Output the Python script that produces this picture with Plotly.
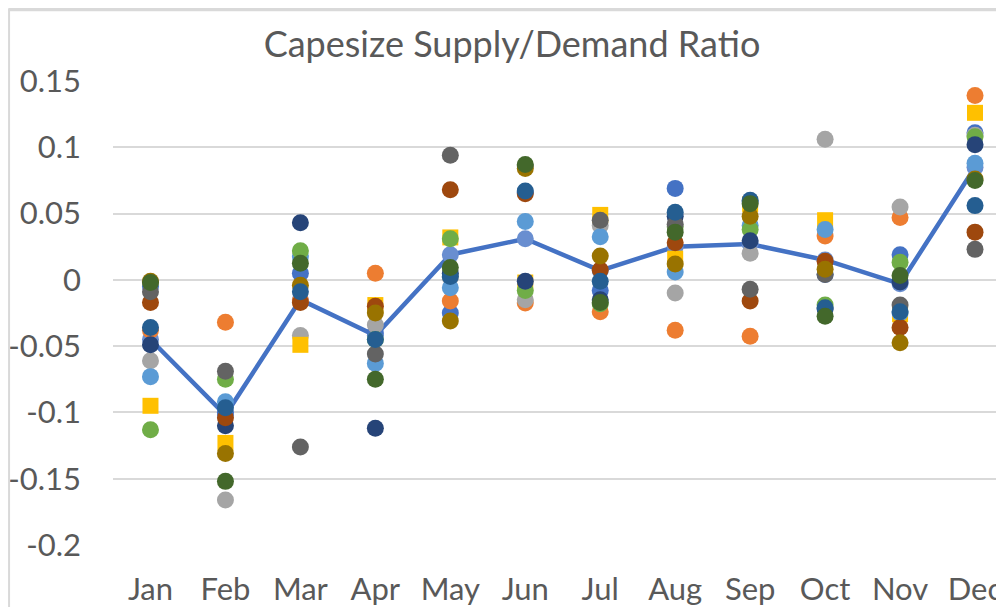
import plotly.graph_objects as go

months = ["Jan", "Feb", "Mar", "Apr", "May", "Jun", "Jul", "Aug", "Sep", "Oct", "Nov", "Dec"]

s01 = [-0.005, -0.100, 0.005, -0.040, -0.025, 0.066, -0.008, 0.069, 0.059, 0.004, 0.019, 0.111]
s02 = [-0.038, -0.032, -0.016, 0.005, -0.016, -0.0175, -0.024, -0.038, -0.0425, 0.033, 0.047, 0.139]
s03 = [-0.061, -0.166, -0.042, -0.034, 0.002, -0.015, 0.041, -0.010, 0.020, 0.106, 0.055, 0.109]
s04 = [-0.095, -0.123, -0.049, -0.019, 0.032, -0.002, 0.049, 0.016, 0.057, 0.045, -0.026, 0.126]
s05 = [-0.073, -0.092, 0.0175, -0.063, -0.006, 0.044, 0.0325, 0.006, 0.041, 0.038, -0.025, 0.088]
s06 = [-0.113, -0.075, 0.022, -0.045, 0.031, -0.008, -0.018, 0.040, 0.038, -0.019, 0.0133, 0.108]
s07 = [-0.049, -0.110, 0.043, -0.112, 0.005, -0.001, -0.015, 0.048, 0.0295, -0.022, -0.0017, 0.102]
s08 = [-0.017, -0.104, -0.017, -0.020, 0.068, 0.065, 0.0075, 0.028, -0.016, 0.014, -0.036, 0.036]
s09 = [-0.009, -0.069, -0.126, -0.056, 0.094, 0.086, 0.045, 0.042, -0.007, 0.004, -0.019, 0.023]
s10 = [-0.001, -0.131, -0.004, -0.025, -0.031, 0.084, 0.018, 0.012, 0.048, 0.008, -0.0475, 0.076]
s11 = [-0.036, -0.0965, -0.009, -0.045, 0.0025, 0.067, -0.001, 0.051, 0.060, -0.021, -0.024, 0.056]
s12 = [-0.002, -0.152, 0.0125, -0.075, 0.0093, 0.087, -0.017, 0.036, 0.0575, -0.0275, 0.0033, 0.075]
average = [-0.045, -0.102, -0.015, -0.042, 0.019, 0.031, 0.007, 0.025, 0.027, 0.015, -0.003, 0.085]

series = [s01, s02, s03, s04, s05, s06, s07, s08, s09, s10, s11, s12]
colors = ["#4472C4", "#ED7D31", "#A5A5A5", "#FFC000", "#5B9BD5", "#70AD47",
          "#264478", "#9E480E", "#636363", "#997300", "#255E91", "#43682B"]
symbols = ["circle", "circle", "circle", "square", "circle", "circle",
           "circle", "circle", "circle", "circle", "circle", "circle"]

ytick_vals = [0.15, 0.1, 0.05, 0, -0.05, -0.1, -0.15, -0.2]
ytick_text = ["0.15", "0.1", "0.05", "0", "-0.05", "-0.1", "-0.15", "-0.2"]

FONT = "Lato, Carlito, Calibri, sans-serif"
# the page body has an 8px margin, so the figure itself is 8px smaller
W, H = 996, 599
ML, MR, MT, MB = 104.5, 0, 73, 59

fig = go.Figure()
fig.add_trace(go.Scatter(
    x=months, y=average, mode="lines+markers", name="Average",
    line=dict(color="#4472C4", width=4.5),
    marker=dict(color="#698ED0", size=17, symbol="circle"),
    showlegend=False))
for i, (vals, c, sym) in enumerate(zip(series, colors, symbols)):
    fig.add_trace(go.Scatter(
        x=months, y=vals, mode="markers", name=f"Series {i+1}",
        marker=dict(color=c, size=17 if sym == "circle" else 16, symbol=sym,
                    line=dict(width=0)),
        showlegend=False))

pw = W - ML - MR
ph = H - MT - MB
def px_x(px):
    return (px - ML) / pw
def px_y(py):
    return (H - MB - py) / ph

fig.update_layout(
    width=W, height=H,
    margin=dict(l=ML, r=MR, t=MT, b=MB),
    paper_bgcolor="white", plot_bgcolor="white",
    showlegend=False,
    font=dict(family=FONT, color="#595959"),
    title=dict(text="Capesize Supply/Demand Ratio", x=504 / W, xref="container", xanchor="center",
               y=1 - 36 / H, yref="container", yanchor="middle",
               font=dict(family=FONT, size=36, color="#595959")),
    xaxis=dict(type="category", categoryorder="array", categoryarray=months,
               range=[-0.5, (W - ML) / 75.0 - 0.5],
               showgrid=False, zeroline=False, showline=False, ticks="",
               tickfont=dict(family=FONT, size=31, color="#595959"),
               ticklabelstandoff=23),
    yaxis=dict(range=[-0.2, 0.15], tickvals=ytick_vals, ticktext=ytick_text,
               showgrid=True, gridcolor="#D9D9D9", gridwidth=1.5,
               zeroline=False, showline=False, ticks="",
               tickfont=dict(family=FONT, size=31, color="#595959"),
               ticklabelstandoff=31),
    shapes=[
        dict(type="line", xref="paper", yref="paper",
             x0=px_x(0), x1=px_x(W + 5), y0=px_y(1), y1=px_y(1),
             line=dict(color="#D9D9D9", width=3.5)),
        dict(type="line", xref="paper", yref="paper",
             x0=px_x(0.5), x1=px_x(0.5), y0=px_y(0), y1=px_y(H + 5),
             line=dict(color="#D9D9D9", width=2)),
    ],
)

fig.write_html("out.html")
